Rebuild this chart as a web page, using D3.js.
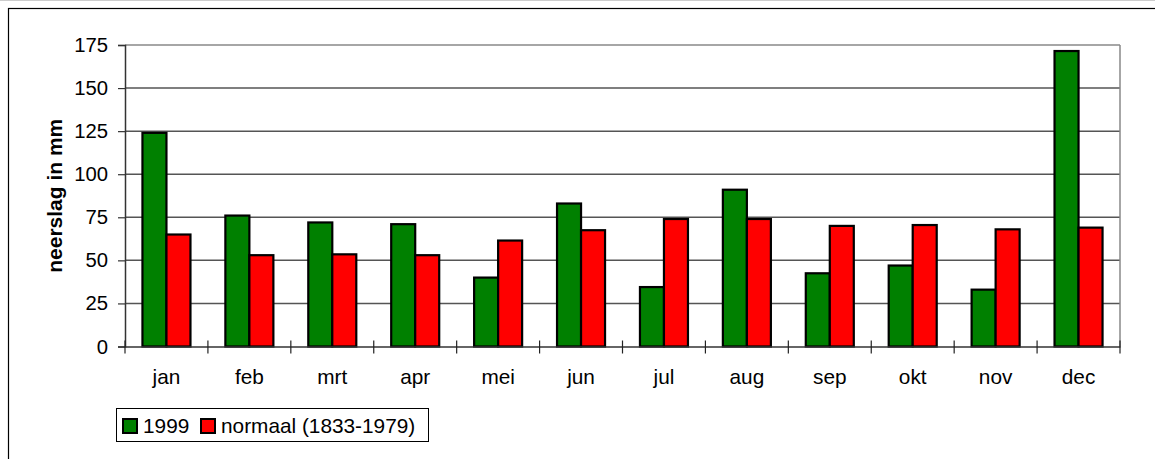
<!DOCTYPE html>
<html><head><meta charset="utf-8">
<script src="https://cdn.jsdelivr.net/npm/d3@7"></script>
<style>body{margin:0;background:#fff;}svg{display:block;font-family:"Liberation Sans",Arial,sans-serif;}</style>
</head><body>
<svg id="c" width="1155" height="459"></svg>
<script>
const months = ["jan","feb","mrt","apr","mei","jun","jul","aug","sep","okt","nov","dec"];
const series = ["1999","normaal (1833-1979)"];
const values1999 = [124,76,72,71,40,83,34.5,91,42.5,47,33,171.5];
const valuesNormaal = [65,53,53.5,53,61.5,67.5,74,74,70,70.5,68,69];
const yTicks = [0,25,50,75,100,125,150,175];
const colors = ["#008000","#ff0000"];

const svg = d3.select("#c");
const L = 125, R = 1120, T = 45, B = 346.5;
const FS = 20.8;

// outer frame
svg.append("line").attr("x1",0).attr("x2",1155).attr("y1",0.5).attr("y2",0.5).attr("stroke","#ccc");
svg.append("rect").attr("x",8.5).attr("y",8.5).attr("width",1200).attr("height",500)
  .attr("fill","none").attr("stroke","#000").attr("stroke-width",1.2);

const x0 = d3.scaleBand().domain(months).range([L,R]).padding(0);
const x1 = d3.scaleBand().domain(series).range([0,x0.bandwidth()]).paddingInner(0).paddingOuter(0.727);
const y = d3.scaleLinear().domain([0,175]).range([B,T]);

// gridlines
svg.append("g").selectAll("line").data(yTicks.filter(d=>d>0)).join("line")
  .attr("x1",L).attr("x2",R).attr("y1",d=>y(d)).attr("y2",d=>y(d))
  .attr("stroke",d=>d===175?"#888":"#555").attr("stroke-width",1.5);
// right border
svg.append("line").attr("x1",R).attr("x2",R).attr("y1",T).attr("y2",B)
  .attr("stroke","#888").attr("stroke-width",1.5);

// bars
const data = months.map((m,i)=>({m, vals:[values1999[i],valuesNormaal[i]]}));
const g = svg.append("g").selectAll("g").data(data).join("g")
  .attr("transform",d=>`translate(${x0(d.m)},0)`);
g.selectAll("rect").data(d=>d.vals.map((v,j)=>({s:series[j],v,j}))).join("rect")
  .attr("x",d=>x1(d.s)).attr("width",x1.bandwidth())
  .attr("y",d=>y(d.v)).attr("height",d=>y(0)-y(d.v))
  .attr("fill",d=>colors[d.j]).attr("stroke","#000").attr("stroke-width",2.2);

// y axis
const ya = svg.append("g").attr("transform",`translate(${L},0)`)
  .call(d3.axisLeft(y).tickValues(yTicks).tickSize(7).tickPadding(10).tickFormat(d3.format("d")));
ya.select(".domain").attr("stroke","#333").attr("stroke-width",1.5);
ya.selectAll(".tick line").attr("stroke","#333").attr("stroke-width",1.2);
ya.selectAll("text").attr("font-size",20.3).attr("fill","#000").attr("font-family","Liberation Sans, Arial, sans-serif");

// x axis
const xa = svg.append("g").attr("transform",`translate(0,${B})`)
  .call(d3.axisBottom(x0).tickSize(0).tickPadding(23));
xa.select(".domain").attr("stroke","#333").attr("stroke-width",1.5);
xa.selectAll("text").attr("font-size",FS).attr("fill","#000").attr("font-family","Liberation Sans, Arial, sans-serif");
// cross tick marks at category boundaries
const bounds = months.map(m=>x0(m)).concat([R]);
svg.append("g").selectAll("line").data(bounds).join("line")
  .attr("x1",d=>d).attr("x2",d=>d).attr("y1",B-6).attr("y2",B+7)
  .attr("stroke","#222").attr("stroke-width",1.2);

// y title
svg.append("text").attr("transform",`translate(62,${(T+B)/2}) rotate(-90)`)
  .attr("text-anchor","middle").attr("font-size",21).attr("font-weight","bold").text("neerslag in mm");

// legend
const lg = svg.append("g");
lg.append("rect").attr("x",116.5).attr("y",408.5).attr("width",312).attr("height",33)
  .attr("fill","#fff").attr("stroke","#000").attr("stroke-width",1);
const legX = [123, 201];
series.forEach((s,i)=>{
  lg.append("rect").attr("x",legX[i]).attr("y",419).attr("width",14).attr("height",14)
    .attr("fill",colors[i]).attr("stroke","#000").attr("stroke-width",2);
  lg.append("text").attr("x",legX[i]+20).attr("y",432.5).attr("font-size",FS).text(s);
});
</script>
</body></html>
